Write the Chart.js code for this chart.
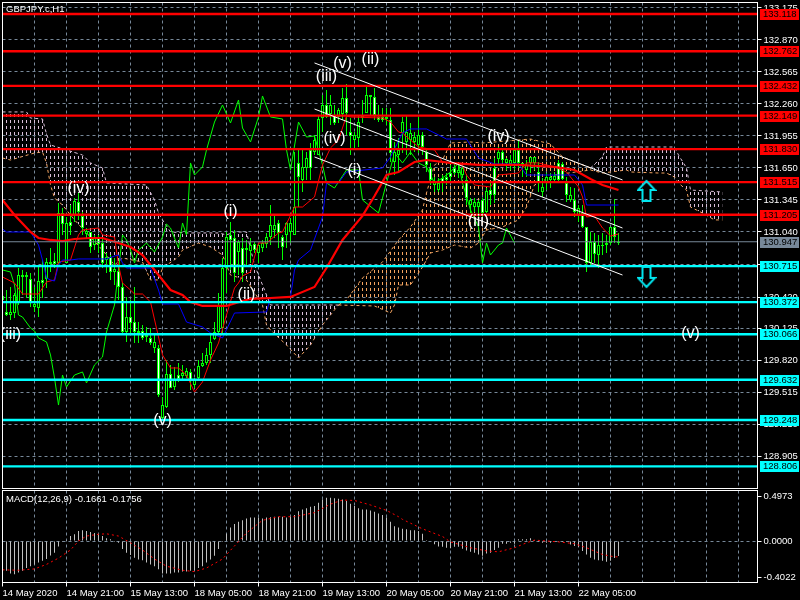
<!DOCTYPE html>
<html><head><meta charset="utf-8">
<style>html,body{margin:0;padding:0;background:#000;width:800px;height:600px;overflow:hidden}
canvas{position:absolute;left:0;display:block;background:#000}</style>
<script src="https://cdn.jsdelivr.net/npm/chart.js@4/dist/chart.umd.min.js"></script>
</head><body>
<canvas id="main" width="800" height="489" style="top:0"></canvas>
<canvas id="macd" width="800" height="111" style="top:489px"></canvas>
<script>
const symbolTitle="GBPJPY.c,H1";
const macdTitle="MACD(12,26,9) -0.1661 -0.1756";
const xLabels=["14 May 2020","14 May 21:00","15 May 13:00","18 May 05:00","18 May 21:00","19 May 13:00","20 May 05:00","20 May 21:00","21 May 13:00","22 May 05:00"];
const priceTicks=[133.175,132.87,132.565,132.26,131.955,131.65,131.345,131.04,130.735,130.42,130.125,129.82,129.515,129.21,128.905];
const macdTicks=[0.4973,0,-0.4022];
const redLevels=[133.118,132.762,132.432,132.149,131.83,131.515,131.205];
const cyanLevels=[130.715,130.372,130.066,129.632,129.248,128.806];
const lastPrice=130.947;

const opens=[130.392,130.249,130.278,130.440,130.630,130.611,130.630,130.363,130.354,130.573,130.554,130.754,130.735,130.735,131.221,131.116,131.126,131.097,131.335,131.231,131.078,131.050,130.897,130.983,130.926,130.745,130.802,130.659,130.687,130.516,130.087,130.230,130.173,130.087,130.097,130.030,130.040,129.982,129.992,129.487,129.391,129.687,129.553,129.630,129.639,129.697,129.716,129.630,129.630,129.763,129.792,129.868,129.992,130.087,130.344,130.697,130.992,130.964,130.649,130.945,130.649,130.888,130.916,130.868,130.916,130.935,130.992,131.107,131.107,131.031,130.897,131.126,131.126,131.278,131.564,131.660,131.745,131.650,131.917,132.117,132.250,132.136,132.250,132.079,132.203,132.317,132.174,131.955,131.965,132.088,132.126,132.346,132.327,132.155,132.107,132.107,132.117,131.793,131.802,131.822,132.088,131.993,131.984,131.945,131.965,131.850,131.679,131.536,131.517,131.507,131.517,131.536,131.564,131.602,131.631,131.650,131.364,131.345,131.326,131.326,131.221,131.431,131.393,131.393,131.802,131.726,131.736,131.726,131.822,131.698,131.698,131.679,131.755,131.755,131.507,131.469,131.564,131.564,131.574,131.536,131.545,131.393,131.393,131.231,131.269,131.088,130.745,130.945,130.830,130.916,130.916,130.935,131.088,130.992,130.935];
const highs=[130.506,130.487,130.516,130.459,130.697,130.678,130.659,130.649,130.516,130.706,130.773,130.792,130.888,130.840,131.316,131.269,131.183,131.297,131.364,131.412,131.231,131.078,131.040,131.012,131.012,130.983,130.840,130.821,130.792,130.725,130.554,130.421,130.392,130.516,130.182,130.154,130.135,130.125,130.059,129.963,129.468,129.820,129.773,129.754,129.792,129.773,129.744,129.735,129.649,129.820,129.887,129.935,130.078,130.182,130.459,130.792,131.040,131.135,131.059,130.964,130.983,130.964,130.983,130.945,130.935,130.964,131.031,131.297,131.202,131.155,131.012,131.135,131.174,131.802,131.822,131.822,131.802,131.888,131.965,132.155,132.346,132.393,132.346,132.250,132.222,132.412,132.450,132.126,131.993,132.155,132.298,132.441,132.346,132.412,132.250,132.222,132.222,132.222,131.898,131.936,132.136,132.155,132.079,131.993,132.136,131.993,131.822,131.698,131.564,131.555,131.583,131.602,131.679,131.707,131.698,131.660,131.583,131.364,131.364,131.345,131.364,131.459,131.517,131.745,131.850,131.822,131.745,131.774,131.841,131.917,131.698,131.726,131.755,131.755,131.707,131.555,131.602,131.602,131.612,131.726,131.707,131.564,131.469,131.459,131.297,131.297,131.088,131.040,131.031,131.012,131.031,131.012,131.088,131.355,131.031];
const lows=[130.268,130.240,130.201,130.221,130.344,130.440,130.411,130.325,130.278,130.230,130.411,130.506,130.659,130.697,130.725,131.012,130.745,131.012,131.135,131.155,131.012,130.983,130.840,130.868,130.840,130.697,130.649,130.583,130.535,130.392,130.059,129.992,130.059,129.982,129.982,130.011,129.992,129.963,129.887,129.468,129.249,129.363,129.553,129.534,129.611,129.630,129.649,129.534,129.553,129.630,129.754,129.773,129.792,130.011,130.078,130.078,130.459,130.678,130.564,130.630,130.564,130.725,130.745,130.840,130.745,130.849,130.888,130.916,130.983,130.888,130.773,130.888,130.935,131.012,131.278,131.421,131.536,131.536,131.774,131.774,131.993,132.126,132.060,132.060,132.079,132.107,131.965,131.774,131.841,131.850,132.079,132.174,132.155,132.107,132.088,132.088,132.060,131.707,131.583,131.612,131.793,131.774,131.774,131.802,131.793,131.774,131.612,131.488,131.421,131.421,131.421,131.488,131.517,131.583,131.555,131.555,131.297,131.221,131.231,131.183,131.183,131.221,131.297,131.316,131.679,131.698,131.631,131.631,131.631,131.650,131.564,131.564,131.602,131.631,131.421,131.374,131.440,131.459,131.507,131.517,131.536,131.326,131.326,131.183,131.135,131.078,130.659,130.725,130.745,130.697,130.821,130.840,130.916,130.935,130.916];
const closes=[130.430,130.278,130.249,130.268,130.363,130.630,130.611,130.592,130.325,130.316,130.583,130.592,130.754,130.763,130.745,131.221,130.745,131.135,131.202,131.326,131.193,131.021,131.040,130.916,130.983,130.935,130.773,130.802,130.659,130.668,130.516,130.087,130.230,130.182,130.078,130.097,130.059,130.030,129.935,129.935,129.268,129.372,129.687,129.563,129.677,129.668,129.668,129.706,129.582,129.649,129.763,129.792,129.868,130.020,130.087,130.125,130.697,131.012,130.983,130.849,130.888,130.868,130.859,130.926,130.840,130.888,130.926,130.992,131.059,131.126,130.992,131.012,131.040,131.012,131.698,131.536,131.650,131.822,131.802,131.774,132.126,132.250,132.165,132.155,132.136,132.165,132.317,131.993,131.917,131.936,132.146,132.174,132.346,132.327,132.136,132.136,132.136,132.107,131.707,131.774,131.984,131.898,131.917,131.898,131.869,131.965,131.802,131.650,131.488,131.440,131.555,131.564,131.602,131.650,131.602,131.583,131.536,131.297,131.278,131.278,131.345,131.231,131.440,131.650,131.736,131.802,131.698,131.688,131.698,131.822,131.669,131.631,131.698,131.698,131.612,131.421,131.517,131.536,131.536,131.698,131.688,131.507,131.345,131.345,131.202,131.221,131.088,130.745,130.945,130.821,130.907,130.916,130.935,131.088,130.947];

const maX=[0,3,7,9,12,15,18,22,25,29,32,35,37,40,42,45,47,50,56,60,62,67,72,78,81,85,90,93,96,99,103,106,112,119,129,138,143,147,150,154];
const maY=[131.345,131.202,131.040,130.983,130.964,130.954,130.973,130.983,130.983,130.935,130.897,130.821,130.725,130.583,130.487,130.440,130.373,130.335,130.335,130.382,130.402,130.411,130.421,130.516,130.697,130.964,131.193,131.383,131.583,131.612,131.707,131.726,131.698,131.679,131.679,131.660,131.631,131.545,131.488,131.440];
const kijunX=[0,1,7,9,10,11,12,13,14,15,17,19,26,28,29,30,31,37,39,40,44,46,50,52,55,58,66,67,72,73,74,77,79,80,81,84,86,95,97,100,102,106,109,111,116,119,123,129,131,143,145,146,154];
const kijunY=[131.069,131.040,131.040,130.916,130.773,130.602,130.583,130.573,130.725,130.773,130.773,130.783,130.783,130.811,130.821,130.745,130.697,130.697,130.487,130.354,130.354,130.182,130.135,130.078,130.030,130.268,130.278,130.411,130.421,130.678,130.773,130.868,131.078,131.183,131.507,131.507,131.612,131.650,131.755,131.984,132.022,132.022,131.965,131.926,131.926,131.745,131.688,131.688,131.583,131.583,131.488,131.297,131.297];
const tenkanX=[0,3,5,9,11,13,14,17,19,20,24,25,28,29,30,32,33,35,37,39,40,42,44,46,48,50,52,54,56,58,59,60,62,63,64,66,69,70,73,75,78,80,82,84,86,87,95,97,99,100,102,104,108,110,115,116,118,122,124,129,131,134,138,141,142,144,145,146,148,149,150,152,154];
const tenkanY=[130.611,130.554,130.449,130.449,130.564,130.583,130.754,130.773,131.012,131.059,131.078,131.012,130.992,130.725,130.554,130.487,130.449,130.449,130.373,130.040,129.868,129.744,129.744,129.677,129.515,129.611,129.820,129.982,130.249,130.506,130.554,130.621,130.659,130.802,130.935,130.935,131.031,131.040,131.278,131.278,131.374,131.679,131.841,131.917,132.146,132.136,132.126,132.088,131.993,131.984,131.917,131.850,131.822,131.707,131.679,131.583,131.488,131.469,131.583,131.602,131.698,131.698,131.660,131.612,131.564,131.469,131.374,131.183,131.193,131.135,131.078,131.002,131.021];
const chikouX=[0,2,3,4,5,7,8,9,11,12,13,14,15,16,18,20,21,23,25,26,28,29,30,31,32,33,34,36,38,40,41,42,44,45,46,47,48,50,51,53,55,57,59,60,62,64,65,67,70,71,72,74,76,78,80,81,83,86,89,90,94,96,98,100,102,104,106,108,110,112,114,115,117,119,120,121,122,124,125,126,128];
const chikouY=[130.678,130.659,130.535,130.249,130.230,130.125,130.097,130.030,129.992,129.868,129.649,129.391,129.677,129.563,129.677,129.706,129.601,129.773,129.849,130.087,130.344,130.678,131.012,130.964,130.868,130.745,130.868,130.935,130.849,130.992,131.116,131.078,130.888,131.126,131.012,131.698,131.583,131.660,131.822,132.088,132.250,132.079,132.298,132.031,131.898,132.136,132.336,132.136,132.117,131.822,131.631,132.088,131.945,131.955,131.679,131.507,131.459,131.631,131.631,131.345,131.221,131.507,131.793,131.698,131.802,131.698,131.660,131.507,131.555,131.612,131.698,131.507,131.250,131.088,130.745,130.935,130.821,130.916,130.935,131.078,130.935];

const thistleTopX=[0,6,7,10,11,12,16,20,22,25,26,36,38,39,40,42,46,54,56,58,61,63,65,67,84];
const thistleTopY=[132.184,132.184,132.126,132.117,131.974,131.869,131.822,131.774,131.698,131.650,131.507,131.488,131.345,131.221,131.155,131.040,131.031,131.031,131.012,131.040,131.040,130.725,130.535,130.344,130.344];
const thistleBotX=[0,2,8,10,11,12,13,15,18,25,28,30,35,37,39,40,44,45,49,52,55,57,61,65,66,67,71,74,77,80,83,84];
const thistleBotY=[131.745,131.726,131.793,131.802,131.698,131.488,131.364,131.297,131.155,130.868,130.725,130.792,130.754,130.583,130.583,130.697,130.802,130.868,130.935,130.897,130.821,130.630,130.583,130.344,130.154,130.106,129.963,129.839,129.963,130.154,130.297,130.344];
const sandyTopX=[84,86,90,95,99,102,105,106,108,110,112,117,120,132,137,140,147];
const sandyTopY=[130.344,130.392,130.602,130.754,130.964,131.088,131.250,131.412,131.679,131.726,131.888,131.898,131.888,131.926,131.879,131.755,131.650];
const sandyBotX=[84,93,97,98,99,102,105,107,110,113,117,119,121,125,129,131,133,138,147];
const sandyBotY=[130.344,130.335,130.268,130.344,130.535,130.535,130.706,130.840,130.868,130.916,130.888,130.935,131.059,131.088,131.155,131.278,131.488,131.583,131.631];
const thistle2TopX=[147,150,151,168,169,171,172,180];
const thistle2TopY=[131.650,131.755,131.850,131.850,131.774,131.650,131.440,131.421];
const thistle2BotX=[147,150,156,157,164,166,168,169,171,172,175,178,180];
const thistle2BotY=[131.631,131.602,131.631,131.612,131.602,131.602,131.564,131.507,131.440,131.278,131.221,131.155,131.155];

const channelX=[78,155];
const channelTop=[132.651,131.536];
const channelMid=[132.212,131.078];
const channelLow=[131.755,130.630];

const waveTexts=["(iv)","(iii)","(v)","(i)","(ii)","(iii)","(v)","(ii)","(iv)","(i)","(iv)","(iii)","(v)"];
const waveX=[19,2,40,57,61,81,85,92,83,88,124,119,172];
const waveY=[131.450,130.059,129.239,131.231,130.440,132.517,132.641,132.679,131.926,131.621,131.945,131.135,130.068];
const arrowX=[161,161];
const arrowY=[131.431,130.612];

const macdHist=[-.29,-.33,-.36,-.37,-.35,-.33,-.30,-.28,-.26,-.24,-.22,-.20,-.16,-.13,-.06,-.01,.01,.055,.075,.11,.12,.11,.10,.09,.075,.055,.03,.02,-.01,-.02,-.09,-.13,-.155,-.185,-.205,-.215,-.24,-.26,-.28,-.315,-.36,-.36,-.36,-.35,-.35,-.34,-.34,-.33,-.325,-.30,-.28,-.24,-.205,-.165,-.09,-.01,.08,.15,.19,.215,.23,.25,.26,.26,.26,.25,.26,.265,.27,.27,.27,.26,.27,.29,.33,.35,.365,.38,.39,.425,.46,.48,.48,.475,.47,.46,.445,.415,.39,.365,.35,.35,.34,.325,.305,.29,.26,.215,.165,.15,.135,.13,.12,.12,.11,.08,.01,0,-.035,-.06,-.065,-.075,-.08,-.065,-.065,-.085,-.105,-.12,-.13,-.15,-.165,-.14,-.13,-.10,-.075,-.03,-.03,-.02,-.03,.02,.02,.02,.03,.01,-.01,-.02,-.02,-.02,-.01,-.01,-.01,-.01,-.04,-.055,-.065,-.11,-.15,-.185,-.205,-.215,-.22,-.23,-.22,-.19,-.1661];
const signalX=[0,4,8,11,14,17,19,21,24,26,29,32,35,38,41,45,48,51,55,58,61,65,69,73,78,82,85,88,92,96,99,100,105,110,112,117,121,124,128,131,133,139,143,146,150,153,154];
const signalY=[-.32,-.325,-.31,-.26,-.19,-.10,0,.055,.075,.08,.055,-.02,-.10,-.20,-.28,-.325,-.34,-.30,-.20,-.055,.09,.23,.27,.27,.315,.41,.455,.45,.40,.34,.27,.24,.135,.05,-.01,-.075,-.11,-.12,-.075,-.02,.01,-.01,-.03,-.075,-.15,-.176,-.1756];

const FONT='9.5px "Liberation Sans"';
const zip=(xs,ys)=>xs.map((x,k)=>({x,y:ys[k]}));
const GRID='#778899';
const XMIN=0,XMAX=188.75;
function dashPattern(col){
  const c=document.createElement('canvas');c.width=4;c.height=6;
  const g=c.getContext('2d');g.fillStyle=col;g.fillRect(2,0,1,3);
  return document.getElementById('main').getContext('2d').createPattern(c,'repeat');
}
function arrowImg(up){
  const c=document.createElement('canvas');c.width=20;c.height=24;
  const g=c.getContext('2d');g.strokeStyle='#00e6f0';g.lineWidth=2;g.lineJoin='miter';
  const P=[[10,2],[18.5,11],[14,11],[14,22],[6,22],[6,11],[1.5,11]];
  g.beginPath();P.forEach(([x,y],k)=>{const yy=up?y:24-y;k?g.lineTo(x,yy):g.moveTo(x,yy)});g.closePath();g.stroke();
  return c;
}
const line=(data,color,width,order,extra)=>Object.assign({type:'line',data,borderColor:color,borderWidth:width,pointRadius:0,tension:0,fill:false,order},extra||{});
const THISTLE='#D8BFD8',SANDY='#F4A460';
const DOT=[3,3];
const ds=[];
ds.push(line(zip(thistleTopX,thistleTopY),THISTLE,1,100,{borderDash:DOT,fill:'+1',backgroundColor:dashPattern(THISTLE)}));
ds.push(line(zip(thistleBotX,thistleBotY),SANDY,1,100,{borderDash:DOT}));
ds.push(line(zip(sandyTopX,sandyTopY),SANDY,1,100,{borderDash:DOT,fill:'+1',backgroundColor:dashPattern(SANDY)}));
ds.push(line(zip(sandyBotX,sandyBotY),SANDY,1,100,{borderDash:DOT}));
ds.push(line(zip(thistle2TopX,thistle2TopY),THISTLE,1,100,{borderDash:DOT,fill:'+1',backgroundColor:dashPattern(THISTLE)}));
ds.push(line(zip(thistle2BotX,thistle2BotY),SANDY,1,100,{borderDash:DOT}));
ds.push(line(zip(chikouX,chikouY),'#00ff00',1,60));
const barIdx=opens.map((_,i)=>i);
ds.push({type:'bar',order:50,data:barIdx.map(i=>({x:i,y:[lows[i],highs[i]]})),backgroundColor:'#00ff00',borderWidth:0,barThickness:1,grouped:false,inflateAmount:0});
ds.push({type:'bar',order:40,data:barIdx.map(i=>({x:i,y:[Math.min(opens[i],closes[i]),Math.max(opens[i],closes[i])]})),
  backgroundColor:barIdx.map(i=>closes[i]>=opens[i]?'#ffffff':'#000000'),borderColor:'#00ff00',borderWidth:1,borderSkipped:false,barThickness:3,grouped:false,inflateAmount:0});
ds.push(line(zip(kijunX,kijunY),'#0000ff',1,30));
ds.push(line(zip(tenkanX,tenkanY),'#ff0000',1,30));
ds.push(line(zip(maX,maY),'#ff0000',2.2,25));
ds.push(line([{x:XMIN,y:lastPrice},{x:XMAX,y:lastPrice}],GRID,1,20));
redLevels.forEach(v=>ds.push(line([{x:XMIN,y:v},{x:XMAX,y:v}],'#ff0000',2.4,10)));
cyanLevels.forEach(v=>ds.push(line([{x:XMIN,y:v},{x:XMAX,y:v}],'#00ffff',2.4,10)));
[channelTop,channelMid,channelLow].forEach(c=>ds.push(line(zip(channelX,c),'#ffffff',1,5)));
ds.push({type:'scatter',order:4,data:[{x:arrowX[0],y:arrowY[0]}],pointStyle:arrowImg(true),pointRadius:10,showLine:false});
ds.push({type:'scatter',order:4,data:[{x:arrowX[1],y:arrowY[1]}],pointStyle:arrowImg(false),pointRadius:10,showLine:false});

const frame={id:'frame',afterDatasetsDraw(c){
  const a=c.chartArea,g=c.ctx;g.save();g.strokeStyle='#fff';g.lineWidth=1;
  g.strokeRect(a.left,a.top,a.right-a.left,a.bottom-a.top);g.restore();}};
const mainText={id:'mainText',afterDraw(c){
  const g=c.ctx,x=c.scales.x,y=c.scales.y,a=c.chartArea;g.save();
  g.beginPath();g.rect(a.left,a.top,a.right-a.left,a.bottom-a.top);g.clip();
  g.textAlign='center';g.textBaseline='middle';g.font='16px "Liberation Sans"';
  waveTexts.forEach((t,k)=>{const px=x.getPixelForValue(waveX[k]),py=y.getPixelForValue(waveY[k]);
    g.fillStyle='#fff';g.fillText(t,px,py);});
  g.restore();g.save();
  g.font=FONT;g.textBaseline='middle';g.textAlign='left';g.fillStyle='#fff';g.fillText(symbolTitle,6,9.5);
  const box=(v,bg)=>{const py=Math.round(y.getPixelForValue(v));g.fillStyle=bg;g.fillRect(760,py-5,39,11);
    g.fillStyle='#000';g.fillText(v.toFixed(3),763,py+.5);};
  box(lastPrice,GRID);
  redLevels.forEach(v=>box(v,'#ff0000'));cyanLevels.forEach(v=>box(v,'#00ffff'));
  g.restore();}};
const macdText={id:'macdText',afterDraw(c){const g=c.ctx;g.save();g.font=FONT;g.textBaseline='middle';g.fillStyle='#fff';g.fillText(macdTitle,6,10.5);g.restore();}};
const noPad=s=>{s.paddingTop=0;s.paddingBottom=0;s.paddingLeft=0;s.paddingRight=0;};
const vTicks=s=>{s.ticks=[];for(let v=0;v<=184;v+=8)s.ticks.push({value:v});};

new Chart(document.getElementById('main'),{
  data:{datasets:ds},
  plugins:[frame,mainText],
  options:{responsive:false,animation:false,devicePixelRatio:1,
    layout:{autoPadding:false,padding:{left:2.5,top:2.5,right:0,bottom:.5}},
    plugins:{legend:{display:false},tooltip:{enabled:false}},
    scales:{
      x:{type:'linear',offset:false,min:XMIN,max:XMAX,afterBuildTicks:vTicks,ticks:{display:false},
        grid:{color:GRID,drawTicks:false,offset:false},border:{display:false,dash:[3,3]},afterFit(s){s.height=0;noPad(s)}},
      y:{type:'linear',position:'right',min:128.5956,max:133.227,
        afterBuildTicks(s){s.ticks=priceTicks.map(value=>({value}))},
        ticks:{font:{family:'Liberation Sans',size:9.5},color:'#fff',padding:2,autoSkip:false,callback:v=>v.toFixed(3)},
        grid:{color:GRID,tickColor:'#fff',tickLength:4,tickBorderDash:[]},border:{display:false,dash:[3,3]},afterFit(s){s.width=42.5;noPad(s)}}
    }}
});
new Chart(document.getElementById('macd'),{
  data:{datasets:[
    {type:'bar',order:5,data:macdHist.map((v,i)=>({x:i,y:[0,v]})),backgroundColor:'#c0c0c0',borderWidth:0,barThickness:1,grouped:false,inflateAmount:0},
    line(zip(signalX,signalY),'#ff0000',1,1,{borderDash:[2,3]})
  ]},
  plugins:[frame,macdText],
  options:{responsive:false,animation:false,devicePixelRatio:1,
    layout:{autoPadding:false,padding:{left:2.5,top:1.5,right:0,bottom:0}},
    plugins:{legend:{display:false},tooltip:{enabled:false}},
    scales:{
      x:{type:'linear',offset:false,min:XMIN,max:XMAX,afterBuildTicks:vTicks,
        ticks:{font:{family:'Liberation Sans',size:9.5},color:'#fff',align:'start',padding:1,autoSkip:false,maxRotation:0,callback:v=>(v%16===0&&xLabels[v/16])||''},
        grid:{color:GRID,offset:false,tickLength:4,tickBorderDash:[],tickColor:c=>(c.tick&&c.tick.value%16===0&&xLabels[c.tick.value/16])?'#fff':'rgba(0,0,0,0)'},
        border:{display:false,dash:[3,3]},afterFit(s){s.height=17.5;noPad(s)}},
      y:{type:'linear',position:'right',min:-.461,max:.561,
        afterBuildTicks(s){s.ticks=macdTicks.map(value=>({value}))},
        ticks:{font:{family:'Liberation Sans',size:9.5},color:'#fff',padding:2,autoSkip:false,callback:v=>v.toFixed(4)},
        grid:{color:c=>(c.tick&&c.tick.value===0)?GRID:'rgba(0,0,0,0)',tickColor:'#fff',tickLength:4,tickBorderDash:[]},border:{display:false,dash:[3,3]},afterFit(s){s.width=42.5;noPad(s)}}
    }}
});
</script></body></html>
